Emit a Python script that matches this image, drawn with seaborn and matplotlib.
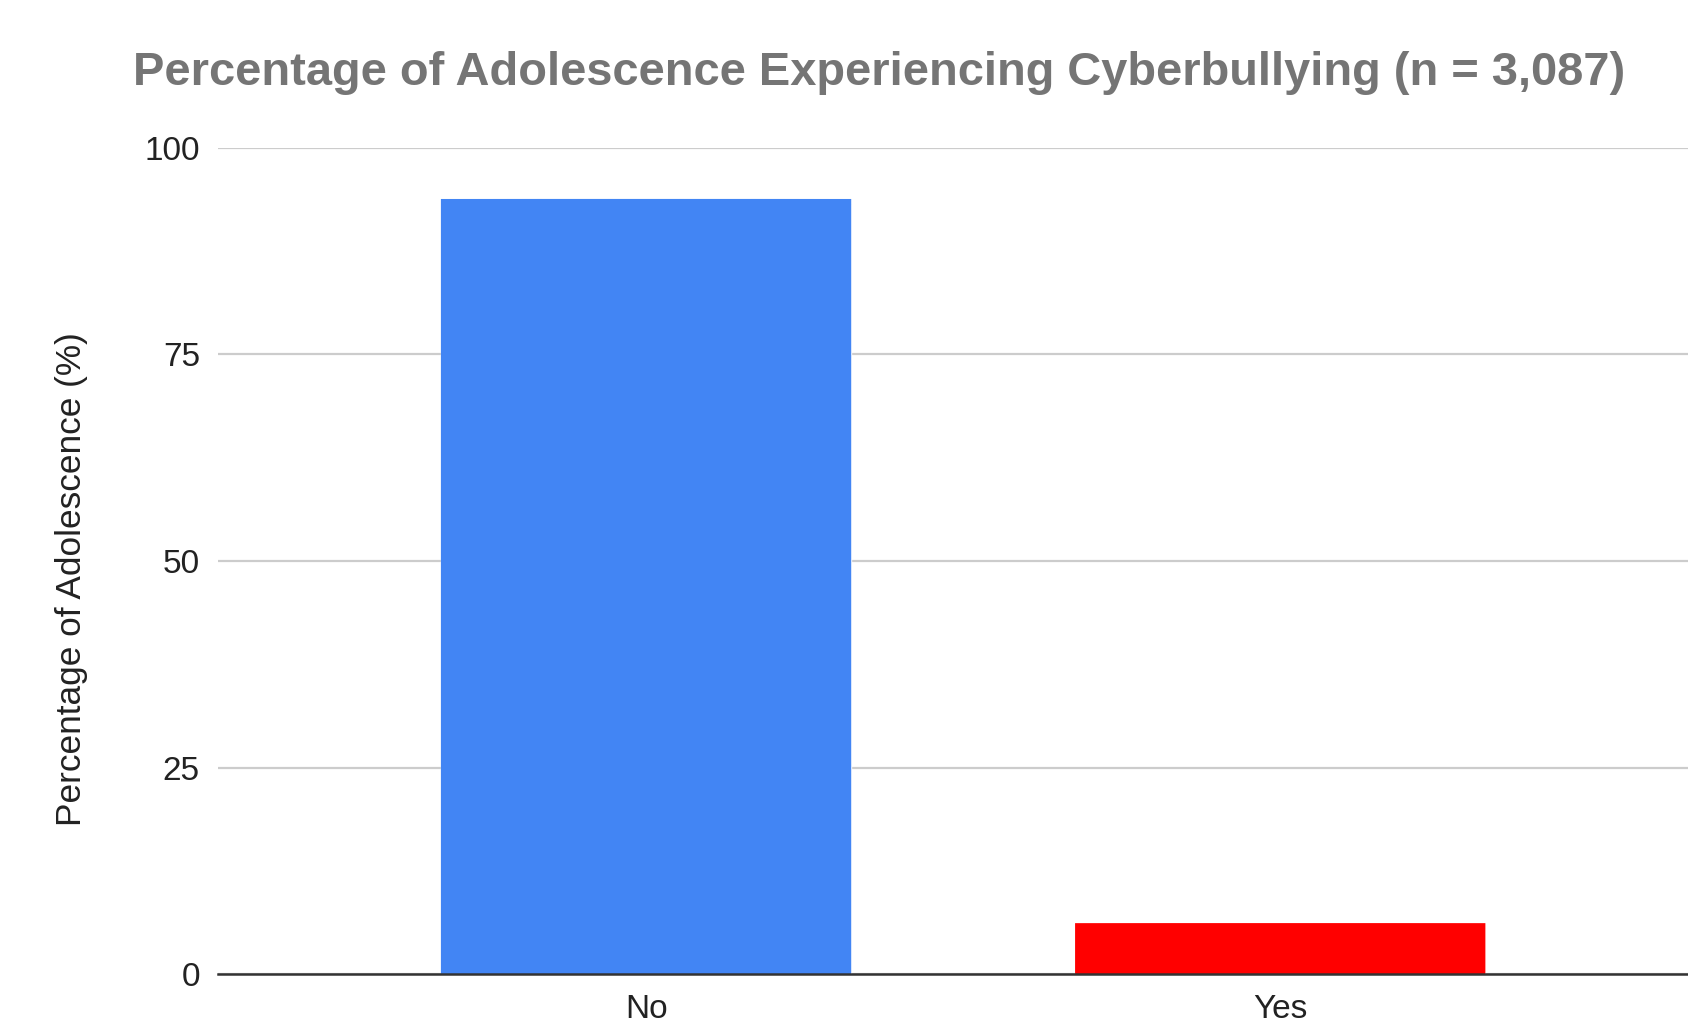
import matplotlib
matplotlib.use("Agg")
import matplotlib.pyplot as plt
from matplotlib.patches import FancyBboxPatch
import seaborn as sns
import pandas as pd

# Survey responses
responses = ["No", "Yes"]
percentages = [93.8, 6.2]
bar_colors = ["#4285F4", "#FF0000"]
y_ticks = [0, 25, 50, 75, 100]

sns.set_theme(style="white")
plt.rcParams["font.family"] = ["Liberation Sans", "DejaVu Sans"]

df = pd.DataFrame({"response": responses, "pct": percentages})

fig = plt.figure(figsize=(16.88, 10.24), dpi=100)
ax = fig.add_axes([218 / 1688, 0.0485, 1 - 218 / 1688, 0.8558 - 0.0485])

sns.barplot(data=df, x="response", y="pct", hue="response",
            palette=dict(zip(responses, bar_colors)), width=0.647,
            legend=False, ax=ax, saturation=1, zorder=3)

ax.set_ylim(0, 100)
ax.set_xlim(-0.675, 1.643)

# Slightly rounded top corners on each bar
radius_y = 0.6
for bar in list(ax.patches):
    x0, w, h = bar.get_x(), bar.get_width(), bar.get_height()
    rounded = FancyBboxPatch((x0, 0), w, h,
                             boxstyle=f"round,pad=0,rounding_size={radius_y}",
                             mutation_aspect=1 / 76,
                             facecolor=bar.get_facecolor(), edgecolor="none",
                             zorder=3)
    ax.add_patch(rounded)
    bar.set_height(h - radius_y)

ax.set_yticks(y_ticks)
ax.set_yticklabels([str(t) for t in y_ticks])
ax.yaxis.grid(True, color="#cccccc", linewidth=1.6, zorder=0)
ax.xaxis.grid(False)
ax.set_axisbelow(True)
for side in ["top", "right", "left"]:
    ax.spines[side].set_visible(False)
ax.spines["bottom"].set_color("#333333")
ax.spines["bottom"].set_linewidth(1.8)
ax.spines["bottom"].set_zorder(4)

ax.tick_params(axis="y", length=0, pad=13, labelsize=24, labelcolor="#222222")
ax.tick_params(axis="x", length=0, pad=14, labelsize=24, labelcolor="#222222")
ax.set_xlabel("")
ax.set_ylabel("Percentage of Adolescence (%)", fontsize=25.4, color="#222222")
ax.yaxis.set_label_coords(-0.0884, 0.478)

fig.text(0.521, 1 - 85 / 1024,
         "Percentage of Adolescence Experiencing Cyberbullying (n = 3,087)",
         ha="center", va="baseline", fontsize=33.8, fontweight="bold",
         color="#757575")

fig.savefig("out.png", dpi=100, facecolor="white")
